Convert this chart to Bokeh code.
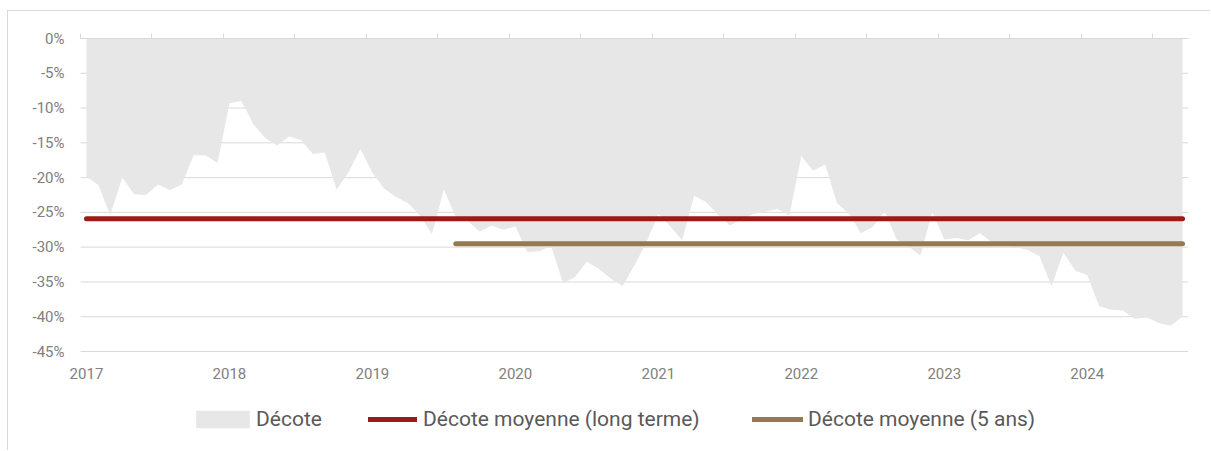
import pandas as pd
from bokeh.plotting import figure
from bokeh.models import (Range1d, LinearAxis, FixedTicker, PrintfTickFormatter,
                          Legend, LegendItem, ColumnDataSource)
from bokeh.core.properties import value
from bokeh.embed import file_html
from bokeh.resources import INLINE

# ---- data -------------------------------------------------------------
months = pd.date_range("2017-01-01", "2024-09-01", freq="MS").strftime("%Y-%m").tolist()
decote = [
    -19.8, -21.1, -25.4, -20.0, -22.4, -22.5, -21.0, -21.8, -21.0, -16.8, -16.8, -17.9,
    -9.3, -9.0, -12.3, -14.3, -15.4, -14.1, -14.6, -16.6, -16.4, -21.7, -19.2, -15.9,
    -19.3, -21.6, -22.8, -23.7, -25.5, -28.1, -21.7, -25.7, -26.2, -27.8, -26.9, -27.5,
    -27.0, -30.7, -30.6, -29.8, -35.2, -34.3, -32.1, -33.1, -34.5, -35.6, -32.6, -29.3,
    -25.2, -27.0, -29.0, -22.6, -23.5, -25.3, -26.9, -26.0, -25.2, -24.9, -24.5, -25.4,
    -16.9, -19.0, -18.1, -23.7, -25.2, -28.0, -27.1, -24.8, -28.9, -29.9, -31.2, -24.9,
    -28.9, -28.7, -29.0, -28.0, -29.3, -29.7, -30.0, -30.4, -31.3, -35.6, -30.8, -33.4,
    -34.0, -38.5, -39.0, -39.1, -40.3, -40.1, -40.9, -41.3, -40.0,
]
moyenne_long_terme = -25.9
moyenne_5_ans = -29.5
debut_5_ans = "2019-08"
annees = ["2017", "2018", "2019", "2020", "2021", "2022", "2023", "2024"]
y_ticks = [0, -5, -10, -15, -20, -25, -30, -35, -40, -45]
legend_labels = ["Décote", "Décote moyenne (long terme)", "Décote moyenne (5 ans)"]

# ---- layout (pixels) ------------------------------------------------------
CANVAS_W, CANVAS_H = 1203, 440
TOP, LEFT, RIGHT = 27, 58, 23
PAD_LEFT = 14                     # frame space left of the data area
GRID_H = 313                      # pixels from 0% to -45%
DATA_W = CANVAS_W - LEFT - RIGHT - PAD_LEFT
FRAME_H = CANVAS_H - TOP          # frame runs to bottom of canvas
n = len(months)
y_lo = y_ticks[-1] * FRAME_H / GRID_H
py = -y_ticks[-1] / GRID_H        # data units per pixel (y)
px = n / DATA_W                   # data units per pixel (x)
x_lo, x_hi = -0.5, n - 0.5

# ---- derived ------------------------------------------------------------
x = list(range(n))
i5 = months.index(debut_5_ans)
src = ColumnDataSource(dict(x=x, y=decote, zero=[0] * n))
lt_src = ColumnDataSource(dict(x=[x[0], x[-1]], y=[moyenne_long_terme] * 2))
m5_src = ColumnDataSource(dict(x=[x[i5], x[-1]], y=[moyenne_5_ans] * 2))
year_pos = [months.index(a + "-01") for a in annees]
yr_src = ColumnDataSource(dict(x=year_pos, y=[y_ticks[-1] - 22 * py] * len(annees), t=annees))
grid_src = ColumnDataSource(dict(x0=[x_lo] * len(y_ticks), x1=[x_hi] * len(y_ticks), y=y_ticks))

GRID = "#d9d9d9"
TXT = "#808080"
FONT = "Roboto"

p = figure(width=CANVAS_W, height=CANVAS_H, output_backend="svg", toolbar_location=None,
           x_range=Range1d(x_lo - PAD_LEFT * px, x_hi), y_range=Range1d(y_lo, 0),
           x_axis_location=None, y_axis_location=None,
           min_border_left=LEFT, min_border_right=RIGHT, min_border_top=TOP, min_border_bottom=0)
p.outline_line_color = None
p.styles = {"border-top": "1px solid #d9d9d9", "border-left": "1px solid #d9d9d9",
            "margin-left": "7px", "margin-top": "10px"}
p.xgrid.visible = False
p.ygrid.visible = False

# horizontal gridlines spanning the data area only
p.segment(x0="x0", x1="x1", y0="y", y1="y", source=grid_src, line_color=GRID, line_width=1,
          level="underlay")

area = p.varea(x="x", y1="zero", y2="y", source=src, fill_color="#e7e7e7")
red = p.line(x="x", y="y", source=lt_src, line_color="#9b1b16", line_width=5, line_cap="round")
brown = p.line(x="x", y="y", source=m5_src, line_color="#957a4f", line_width=5, line_cap="round")

# year labels under the -45% line
p.text(x="x", y="y", text="t", source=yr_src, text_align="center", text_baseline="middle",
       text_font=value(FONT), text_font_size="15px", text_color=TXT)

# y axis
yaxis = LinearAxis(ticker=FixedTicker(ticks=y_ticks), formatter=PrintfTickFormatter(format="%d%%"))
yaxis.axis_line_color = None
yaxis.major_tick_line_color = None
yaxis.minor_tick_line_color = None
yaxis.major_label_standoff = -4
yaxis.major_label_text_font = FONT
yaxis.major_label_text_font_size = "15px"
yaxis.major_label_text_color = TXT
p.add_layout(yaxis, "left")

# top axis (tick marks only, at half-years)
half_years = [i - 0.5 for i in range(0, n, 6)]
top = LinearAxis(ticker=FixedTicker(ticks=half_years), bounds=(x_lo, x_hi),
                 major_label_overrides={t: "" for t in half_years})
top.axis_line_color = GRID
top.major_tick_line_color = GRID
top.major_tick_in = 0
top.major_tick_out = 5
top.minor_tick_line_color = None
top.major_label_text_font_size = "1px"
p.add_layout(top, "above")

# legends, one per item, positioned inside the frame near its bottom
specs = [  # renderer, left offset, glyph width, standoff
    (area, 123, 67, 0),
    (red, 302, 49, 6),
    (brown, 686, 51, 5),
]
for label, (r, lx, gw, so) in zip(legend_labels, specs):
    lg = Legend(items=[LegendItem(label=label, renderers=[r])], location=(lx, 20),
                orientation="horizontal", glyph_width=gw, glyph_height=22,
                label_standoff=so, padding=0, margin=0, spacing=0,
                border_line_color=None, background_fill_alpha=0,
                label_text_font=FONT, label_text_font_size="21px",
                label_text_color="#595959")
    p.add_layout(lg, "center")

open("out.html", "w").write(file_html(p, INLINE))
